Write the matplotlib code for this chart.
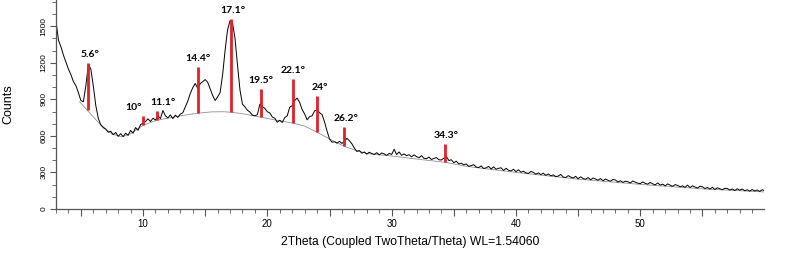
import matplotlib.pyplot as plt
import numpy as np
from matplotlib.ticker import MultipleLocator, FuncFormatter

# measured pattern, 0.2 deg steps from 3 to 60 deg 2theta
two_theta = np.linspace(3, 60, 286)
counts = [
    1540, 1385, 1330, 1262, 1205,   # 3
    1148, 1102, 1046, 1012, 955,    # 4
    890, 880, 1010, 1185, 1150,     # 5
    1010, 850, 745, 690, 668,       # 6
    655, 630, 638, 610, 628,        # 7
    596, 618, 594, 622, 604,        # 8
    645, 622, 668, 646, 692,        # 9
    705, 718, 740, 718, 745,        # 10
    730, 765, 742, 808, 765,        # 11
    748, 772, 742, 770, 752,        # 12
    778, 790, 838, 885, 948,        # 13
    995, 1030, 990, 1028, 1045,     # 14
    1062, 1040, 985, 932, 890,      # 15
    920, 955, 1100, 1300, 1470,     # 16
    1545, 1525, 1400, 1180, 975,    # 17
    860, 838, 810, 795, 770,        # 18
    765, 775, 860, 840, 825,        # 19
    798, 788, 755, 745, 712,        # 20
    728, 710, 750, 765, 835,        # 21
    848, 890, 910, 875, 815,        # 22
    780, 732, 758, 765, 805,        # 23
    815, 790, 775, 715, 640,        # 24
    575, 548, 552, 540, 555,        # 25
    538, 556, 580, 560, 535,        # 26
    500, 472, 480, 458, 468,        # 27
    450, 466, 455, 448, 462,        # 28
    444, 460, 452, 440, 456,        # 29
    448, 490, 446, 468, 440,        # 30
    452, 438, 446, 428, 444,        # 31
    430, 420, 438, 416, 412,        # 32
    426, 406, 415, 422, 404,        # 33
    402, 418, 430, 398, 404,        # 34
    380, 392, 370, 376, 362,        # 35
    370, 350, 356, 364, 344,        # 36
    340, 354, 332, 338, 350,        # 37
    328, 346, 326, 334, 338,        # 38
    316, 334, 318, 312, 326,        # 39
    306, 322, 302, 310, 296,        # 40
    292, 308, 300, 286, 296,        # 41
    282, 294, 276, 288, 272,        # 42
    280, 266, 270, 284, 262,        # 43
    258, 274, 262, 254, 268,        # 44
    248, 264, 250, 244, 258,        # 45
    240, 254, 246, 236, 250,        # 46
    232, 246, 236, 228, 242,        # 47
    238, 222, 232, 218, 228,        # 48
    224, 214, 230, 220, 212,        # 49
    208, 222, 210, 204, 218,        # 50
    206, 198, 214, 196, 204,        # 51
    190, 206, 196, 186, 200,        # 52
    194, 182, 190, 178, 196,        # 53
    176, 190, 180, 172, 186,        # 54
    182, 168, 176, 164, 178,        # 55
    160, 174, 166, 158, 170,        # 56
    168, 156, 164, 152, 166,        # 57
    154, 164, 150, 158, 146,        # 58
    160, 148, 156, 144, 158,        # 59
    150,
]

# background line
bg_theta = [4.9, 6.5, 7.5, 8.3, 9.0, 10, 11.1, 12, 13, 14.4, 15.5, 16.5, 17.1, 18,
            19.5, 20.5, 22.1, 23, 24, 25, 26.2, 27, 28, 30, 32, 34.3, 36, 40, 45,
            50, 55, 60]
bg_counts = [880, 700, 615, 592, 618, 687, 728, 745, 765, 786, 797, 798, 794, 782,
             753, 733, 704, 680, 630, 575, 514, 485, 455, 435, 410, 383, 350, 300,
             245, 202, 165, 140]

# marked peaks
peak_pos = [5.6, 10, 11.1, 14.4, 17.1, 19.5, 22.1, 24, 26.2, 34.3]
peak_low = [810, 687, 728, 786, 794, 753, 704, 630, 514, 383]
peak_high = [1197, 761, 802, 1165, 1560, 984, 1066, 926, 671, 531]
peak_labels = ["5.6°", "10°", "11.1°", "14.4°", "17.1°", "19.5°", "22.1°", "24°",
               "26.2°", "34.3°"]
label_dx = [1, -7, 4.5, 0.5, 1, 0, 0, 2, 1, 0.5]

plt.rcParams["font.family"] = ["Liberation Sans", "DejaVu Sans"]

fig = plt.figure(figsize=(8, 2.71), dpi=100)
ax = fig.add_axes([0.07, 0.2288, 0.885, 0.7712])

ax.plot(bg_theta, bg_counts, color="#909090", lw=0.6)
ax.plot(two_theta, counts, color="black", lw=0.7)
ax.vlines(peak_pos, peak_low, peak_high, color="#e0202a", lw=2.0)
for xp, yp, lab, dx in zip(peak_pos, peak_high, peak_labels, label_dx):
    ax.annotate(lab, (xp, yp), xytext=(dx, 3), textcoords="offset points",
                ha="center", va="bottom", fontsize=7.5, fontweight="bold",
                family=["Lato", "DejaVu Sans"])

ax.set_xlim(3, 59.95)
ax.set_ylim(0, 1715)

for s in ["top", "right"]:
    ax.spines[s].set_visible(False)
for s in ["left", "bottom"]:
    ax.spines[s].set_color("#555555")
    ax.spines[s].set_linewidth(0.9)

ax.xaxis.set_major_locator(MultipleLocator(5))
ax.xaxis.set_minor_locator(MultipleLocator(1))
ax.xaxis.set_major_formatter(FuncFormatter(lambda v, p: f"{v:.0f}" if v % 10 == 0 else ""))
ax.yaxis.set_major_locator(MultipleLocator(300))
ax.yaxis.set_minor_locator(MultipleLocator(100))

ax.tick_params(axis="x", which="major", length=5, width=0.8, color="#555555",
               labelsize=7, pad=2)
ax.tick_params(axis="x", which="minor", length=3, width=0.6, color="#555555")
ax.tick_params(axis="y", which="major", length=4, width=0.8, color="#555555",
               labelsize=6, pad=2)
ax.tick_params(axis="y", which="minor", length=3, width=0.6, color="#555555")
for lab in ax.get_yticklabels():
    lab.set_rotation(90)
    lab.set_va("center")

ax.set_xlabel("2Theta (Coupled TwoTheta/Theta) WL=1.54060", fontsize=8.7, labelpad=5)
ax.set_ylabel("Counts", fontsize=9, labelpad=19)

fig.savefig("out.png", dpi=100)
